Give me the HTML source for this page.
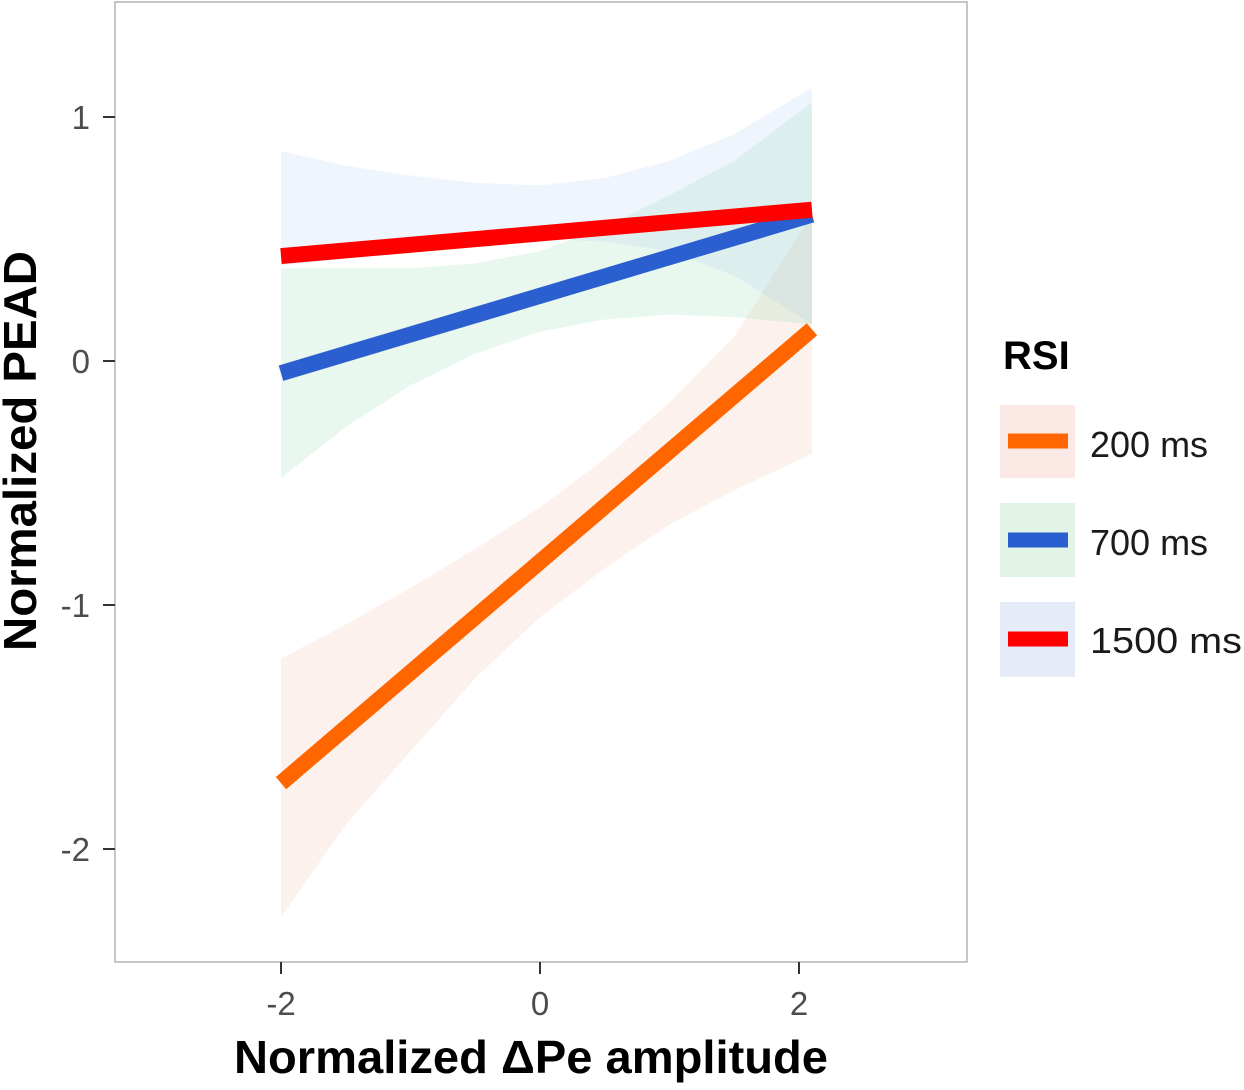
<!DOCTYPE html>
<html><head><meta charset="utf-8"><style>
body{margin:0;background:#fff;font-family:"Liberation Sans",sans-serif}
</style></head><body>
<svg id="chart" width="1244" height="1085" xmlns="http://www.w3.org/2000/svg">
<rect x="115" y="2" width="852" height="960" fill="#fff" stroke="#b3b3b3" stroke-width="1.5"/>
<g id="ribbons"></g><g id="lines"></g><g id="axes"></g>
<text x="531" y="1073" font-size="46" font-weight="bold" text-anchor="middle" fill="#000" textLength="594" lengthAdjust="spacingAndGlyphs">Normalized ΔPe amplitude</text>
<text transform="translate(36,451) rotate(-90)" font-size="46" font-weight="bold" text-anchor="middle" fill="#000" textLength="400" lengthAdjust="spacingAndGlyphs">Normalized PEAD</text>
<g>
<text x="1003" y="369" font-size="40" font-weight="bold">RSI</text>
<g><rect x="1000" y="405" width="75" height="73" fill="#fbe9e6"/><line x1="1008" y1="441" x2="1068" y2="441" stroke="#ff6600" stroke-width="15"/><text x="1090" y="457" font-size="36" fill="#1a1a1a">200 ms</text></g>
<g><rect x="1000" y="503" width="75" height="74" fill="#e2f4e8"/><line x1="1008" y1="540" x2="1068" y2="540" stroke="#2b5fd0" stroke-width="15"/><text x="1090" y="555" font-size="36" fill="#1a1a1a">700 ms</text></g>
<g><rect x="1000" y="602" width="75" height="75" fill="#e6ecf7"/><line x1="1008" y1="639" x2="1068" y2="639" stroke="#ff0000" stroke-width="15"/><text x="1090" y="653" font-size="36" fill="#1a1a1a" textLength="152" lengthAdjust="spacingAndGlyphs">1500 ms</text></g>
</g>
</svg>
<script>
const ribbonX=[-2,-1.5,-1,-0.5,0,0.5,1,1.5,2.1];
const upper200=[-1.22,-1.08,-0.93,-0.77,-0.6,-0.4,-0.17,0.1,0.6];
const lower200=[-2.28,-1.9,-1.6,-1.3,-1.05,-0.85,-0.67,-0.53,-0.38];
const upper700=[0.38,0.38,0.38,0.4,0.45,0.55,0.68,0.82,1.06];
const lower700=[-0.48,-0.27,-0.1,0.03,0.12,0.17,0.19,0.18,0.15];
const upper1500=[0.86,0.8,0.76,0.73,0.72,0.75,0.82,0.93,1.12];
const lower1500=[0.39,0.42,0.45,0.48,0.5,0.49,0.45,0.35,0.15];
const lineX=[-2,2.1];
const line200=[-1.73,0.13];
const line700=[-0.05,0.6];
const line1500=[0.43,0.62];
const xTicks=[-2,0,2];
const yTicks=[1,0,-1,-2];
const sx=v=>540+v*129.5;
const sy=v=>361-v*244;
const NS="http://www.w3.org/2000/svg";
function mk(tag,attrs,parent){const e=document.createElementNS(NS,tag);for(const k in attrs)e.setAttribute(k,attrs[k]);parent.appendChild(e);return e;}
const rg=document.getElementById('ribbons');
[[upper200,lower200,'#f4a590',0.16,'ribbon-200'],[upper700,lower700,'#7fd9a0',0.18,'ribbon-700'],[upper1500,lower1500,'#a6c8ef',0.18,'ribbon-1500']].forEach(([u,l,c,o,n])=>{
 let pts=ribbonX.map((x,i)=>sx(x)+','+sy(u[i]));
 pts=pts.concat(ribbonX.map((x,i)=>sx(x)+','+sy(l[i])).reverse());
 const p=mk('polygon',{points:pts.join(' '),fill:c,'fill-opacity':o},rg);
 
 
});
const lg=document.getElementById('lines');
[[line200,'#ff6600','line-200'],[line700,'#2b5fd0','line-700'],[line1500,'#ff0000','line-1500']].forEach(([v,c,n])=>{
 const e=mk('line',{x1:sx(lineX[0]),y1:sy(v[0]),x2:sx(lineX[1]),y2:sy(v[1]),stroke:c,'stroke-width':16},lg);
 
 
});
const ag=document.getElementById('axes');
xTicks.forEach(t=>{
 mk('line',{x1:sx(t),y1:962,x2:sx(t),y2:974,stroke:'#333','stroke-width':2},ag);
 const tx=mk('text',{x:sx(t),y:1015,'font-size':33,'text-anchor':'middle',fill:'#4d4d4d'},ag);
 tx.textContent=t;
 
 
});
yTicks.forEach(t=>{
 mk('line',{x1:103,y1:sy(t),x2:115,y2:sy(t),stroke:'#333','stroke-width':2},ag);
 const tx=mk('text',{x:90,y:sy(t)+12,'font-size':33,'text-anchor':'end',fill:'#4d4d4d'},ag);
 tx.textContent=t;
 
 
});
</script>
</body></html>
